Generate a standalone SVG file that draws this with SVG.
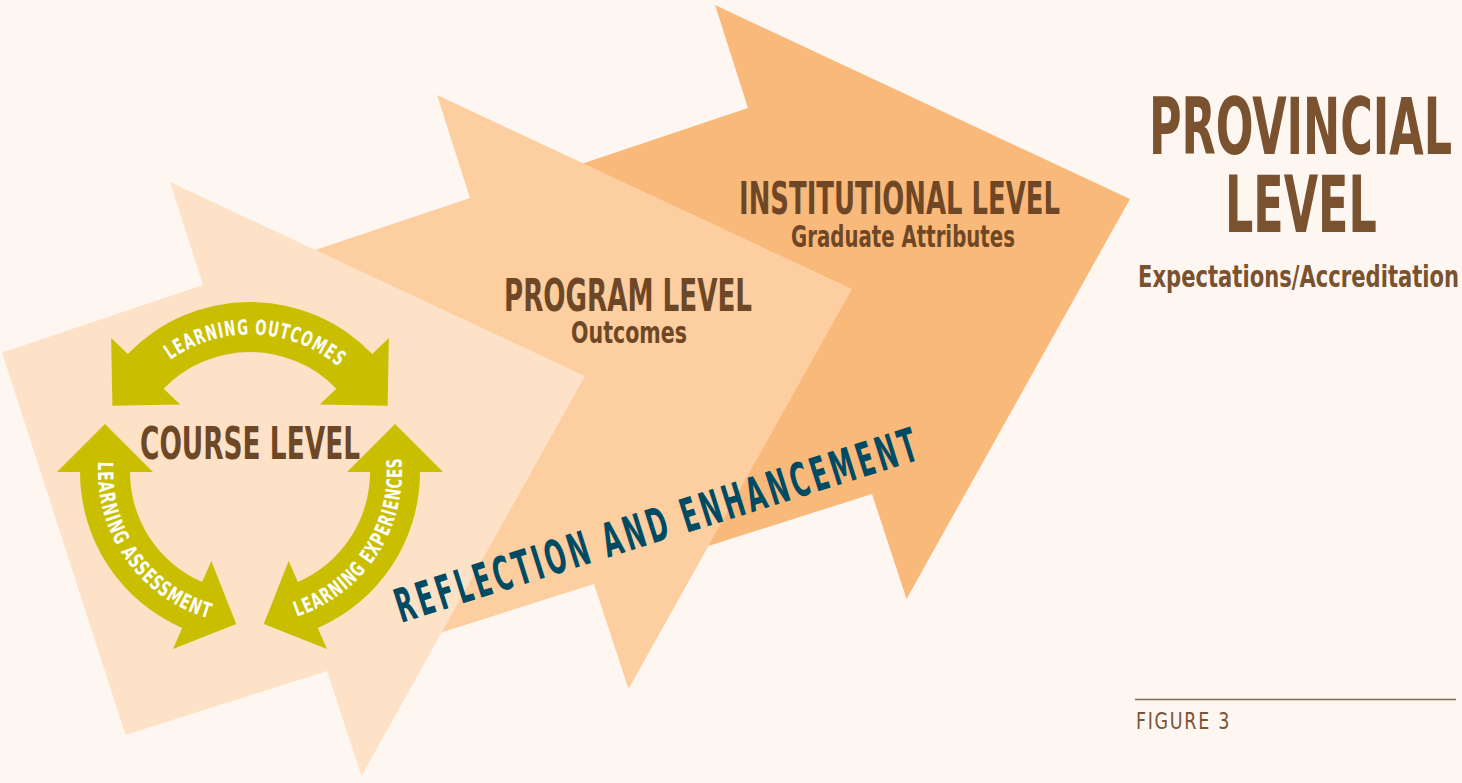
<svg xmlns="http://www.w3.org/2000/svg" xmlns:xlink="http://www.w3.org/1999/xlink" width="1462" height="783" viewBox="0 0 1462 783">
  <style>
    .bg { fill: #FEF7F1; }
    .course { fill: #FDE2C7; }
    .program { fill: #FDCE9F; }
    .inst { fill: #F9B97B; }
    .cond { font-family: "DejaVu Sans Condensed", "DejaVu Sans", sans-serif; font-stretch: condensed; font-weight: bold; }
    .head { fill: #6E4826; font-size: 45px; }
    .sub { fill: #6E4826; font-size: 30px; }
    .prov { fill: #7A5230; }
    .cyc { fill: #C9BE00; }
    .arc { fill: #FFFFFF; font-size: 21px; letter-spacing: 1.5px; }
    .refl { fill: #004B64; font-size: 47px; letter-spacing: 6px; }
    .fig { font-family: "DejaVu Sans Condensed", "DejaVu Sans", sans-serif; font-stretch: condensed; fill: #7A5535; font-size: 23px; letter-spacing: 2px; }
  </style>
  <defs>
    <polygon id="arrowShape" points="2,352.5 203,285 170,182 585,376 361.5,776 327,671 125.5,735"/>
    <path id="tpTop" d="M115.76,442.24 A137.5,137.5 0 0 1 386.32,454.05" fill="none"/>
    <path id="tpLeft" d="M141.96,365.08 A152,152 0 0 0 314.96,609.42" fill="none"/>
    <path id="tpRight" d="M190.12,611.71 A152,152 0 0 0 354.05,361.20" fill="none"/>
  </defs>
  <rect class="bg" x="0" y="0" width="1462" height="783"/>

  <g id="institutional-level">
    <use xlink:href="#arrowShape" href="#arrowShape" class="inst" transform="translate(545,-177)"/>
    <text class="cond head" transform="translate(739,214) scale(0.64,1)" textLength="501.6" lengthAdjust="spacingAndGlyphs">INSTITUTIONAL LEVEL</text>
    <text class="cond sub" transform="translate(791,246.5) scale(0.72,1)" textLength="311" lengthAdjust="spacingAndGlyphs">Graduate Attributes</text>
  </g>

  <g id="program-level">
    <use xlink:href="#arrowShape" href="#arrowShape" class="program" transform="translate(267,-87)"/>
    <text class="cond head" transform="translate(504,311) scale(0.64,1)" textLength="387.5" lengthAdjust="spacingAndGlyphs">PROGRAM LEVEL</text>
    <text class="cond sub" transform="translate(571,343) scale(0.72,1)" textLength="161" lengthAdjust="spacingAndGlyphs">Outcomes</text>
  </g>

  <g id="course-level">
    <use xlink:href="#arrowShape" href="#arrowShape" class="course"/>
    <text class="cond head" transform="translate(140,458.5) scale(0.64,1)" textLength="343.8" lengthAdjust="spacingAndGlyphs">COURSE LEVEL</text>
  </g>

  <g id="connectors">
    <g id="learning-outcomes">
      <path class="cyc" d="M127.71,353.91 A170,170 0 0 1 372.29,353.91 L388.83,337.93 L387.64,405.80 L319.78,404.62 L336.32,388.64 A120,120 0 0 0 163.68,388.64 L180.22,404.62 L112.36,405.80 L111.17,337.93 Z"/>
      <text class="cond arc" text-anchor="middle"><textPath xlink:href="#tpTop" href="#tpTop" startOffset="50%" textLength="182" lengthAdjust="spacingAndGlyphs">LEARNING OUTCOMES</textPath></text>
    </g>
    <g id="learning-assessment">
      <path class="cyc" d="M80,472 A170,170 0 0 0 182.21,627.90 L173.04,648.99 L236.20,624.11 L211.32,560.95 L202.15,582.05 A120,120 0 0 1 130,472 L153,472 L105,424 L57,472 Z"/>
      <text class="cond arc" text-anchor="middle"><textPath xlink:href="#tpLeft" href="#tpLeft" startOffset="50%" textLength="208" lengthAdjust="spacingAndGlyphs">LEARNING ASSESSMENT</textPath></text>
    </g>
    <g id="learning-experiences">
      <path class="cyc" d="M420,472 A170,170 0 0 1 317.79,627.90 L326.96,648.99 L263.80,624.11 L288.68,560.95 L297.85,582.05 A120,120 0 0 0 370,472 L347,472 L395,424 L443,472 Z"/>
      <text class="cond arc" text-anchor="middle"><textPath xlink:href="#tpRight" href="#tpRight" startOffset="50%" textLength="206" lengthAdjust="spacingAndGlyphs">LEARNING EXPERIENCES</textPath></text>
    </g>
  </g>

  <g id="reflection">
    <text class="cond refl" transform="translate(401,623) rotate(-17.5) scale(0.62,1)" textLength="884" lengthAdjust="spacingAndGlyphs">REFLECTION AND ENHANCEMENT</text>
  </g>

  <g id="provincial-level">
    <text class="cond prov" font-size="78" transform="translate(1149,154) scale(0.63,1)" textLength="481" lengthAdjust="spacingAndGlyphs">PROVINCIAL</text>
    <text class="cond prov" font-size="78" transform="translate(1225,231.5) scale(0.63,1)" textLength="241" lengthAdjust="spacingAndGlyphs">LEVEL</text>
    <text class="cond prov" font-size="30" transform="translate(1138,287) scale(0.72,1)" textLength="446" lengthAdjust="spacingAndGlyphs">Expectations/Accreditation</text>
  </g>

  <g id="figure-caption">
    <line x1="1135" y1="699.5" x2="1456" y2="699.5" stroke="#8B6A4B" stroke-width="1.5"/>
    <text class="fig" x="1136" y="729.3" textLength="95" lengthAdjust="spacingAndGlyphs">FIGURE 3</text>
  </g>
</svg>
